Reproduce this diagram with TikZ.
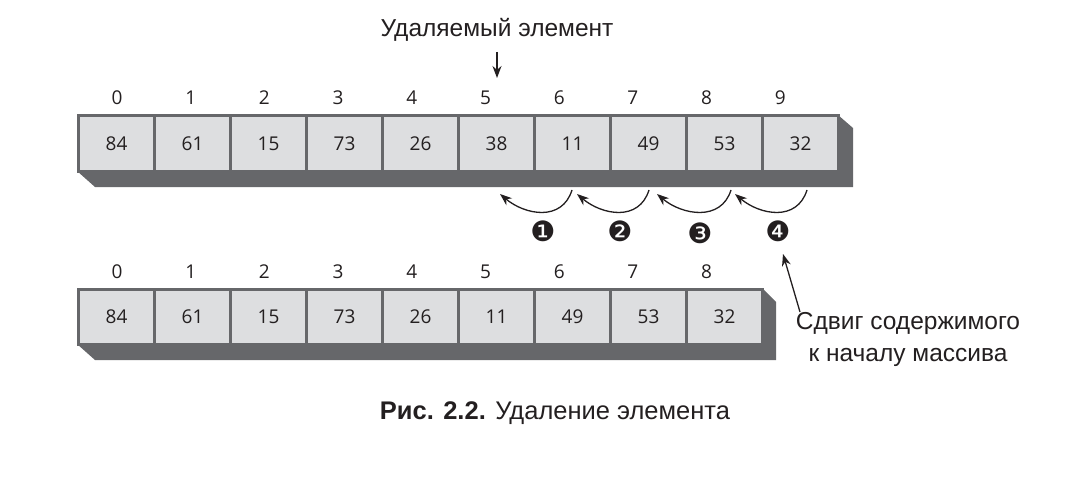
\documentclass[tikz,border=0pt]{standalone}
\usepackage{fontspec}
\setmainfont{Liberation Sans}
\newfontfamily\numfont{Open Sans}
\newfontfamily\dingfont{DejaVu Sans}
\usetikzlibrary{arrows.meta}
\definecolor{dk}{RGB}{102,103,106}
\definecolor{lt}{RGB}{221,222,224}
\definecolor{ink}{RGB}{35,31,32}
\begin{document}
\begin{tikzpicture}[x=1pt,y=-1pt,
  cell/.style={draw=dk,fill=lt,line width=3pt,minimum width=76pt,minimum height=55pt,inner sep=0pt,
    font=\numfont\fontsize{19}{24}\selectfont,text=ink},
  idx/.style={inner sep=0pt,font=\numfont\fontsize{19}{24}\selectfont,text=ink},
  lbl/.style={inner sep=0pt,font=\fontsize{24.5}{28}\selectfont,text=ink},
  ding/.style={inner sep=0pt,font=\dingfont\fontsize{28}{30}\selectfont,text=ink},
  arr/.style={draw=ink,line width=1.3pt,-{Stealth[length=12pt,width=9pt]}},
  frame/.style={fill=dk}]
\useasboundingbox (0,0) rectangle (1084,484);
% top array
\fill[frame] (77,115) -- (838,115) -- (853,128) -- (853,187) -- (95,187) -- (77,171) -- cycle;
\foreach \v [count=\i from 0] in {84,61,15,73,26,38,11,49,53,32} {
  \node[cell] (t\i) at (116.5+76*\i,143.5) {\v};
  \node[idx] (ti\i) at (117+73.7*\i,98) {\i};
}
% bottom array
\fill[frame] (77,288) -- (762,288) -- (776,302) -- (776,360) -- (95,360) -- (77,344) -- cycle;
\foreach \v [count=\i from 0] in {84,61,15,73,26,11,49,53,32} {
  \node[cell] (b\i) at (116.5+76*\i,316.5) {\v};
  \node[idx] (bi\i) at (117+73.7*\i,272) {\i};
}
% title
\node[lbl] (title) at (497,30) {Удаляемый элемент};
\coordinate (d1) at (497,52);
\coordinate (d2) at (497,78);
\draw[arr] (d1) -- (d2);
% shift arrows
\coordinate (s1) at (572,190); \coordinate (e1) at (500,194);
\coordinate (s2) at (649,190); \coordinate (e2) at (577,194);
\coordinate (s3) at (731,190); \coordinate (e3) at (657,194);
\coordinate (s4) at (807,190); \coordinate (e4) at (735,194);
\draw[arr] (s1) .. controls (562,222) and (525,215) .. (e1);
\draw[arr] (s2) .. controls (639,222) and (602,215) .. (e2);
\draw[arr] (s3) .. controls (721,222) and (682,215) .. (e3);
\draw[arr] (s4) .. controls (797,222) and (760,215) .. (e4);
\node[ding] (c1) at (543,231) {❶};
\node[ding] (c2) at (620,231) {❷};
\node[ding] (c3) at (700,233) {❸};
\node[ding] (c4) at (778,231) {❹};
% annotation
\node[lbl,align=center] (shift) at (908,339) {Сдвиг содержимого\\[4pt]к началу массива};
\coordinate (p1) at (800,312);
\coordinate (p2) at (783,254);
\draw[arr] (p1) -- (p2);
% caption
\node[lbl,font=\fontsize{25.5}{28}\selectfont] (cap) at (555,413) {\textbf{Рис. 2.2.} Удаление элемента};
\end{tikzpicture}
\end{document}
